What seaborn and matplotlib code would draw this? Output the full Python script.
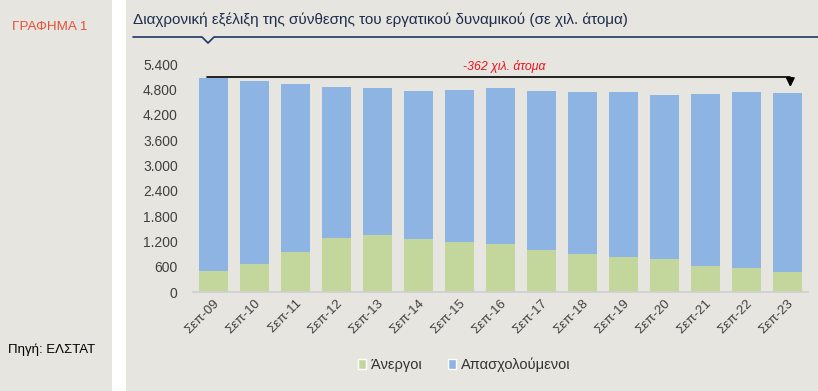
import numpy as np
import pandas as pd
import matplotlib.pyplot as plt
import seaborn as sns
from matplotlib.patches import Rectangle, Patch
from matplotlib.lines import Line2D
from matplotlib.ticker import FuncFormatter

periods = ["Σεπ-09", "Σεπ-10", "Σεπ-11", "Σεπ-12", "Σεπ-13", "Σεπ-14", "Σεπ-15",
           "Σεπ-16", "Σεπ-17", "Σεπ-18", "Σεπ-19", "Σεπ-20", "Σεπ-21", "Σεπ-22", "Σεπ-23"]
unemployed = [511, 677, 953, 1284, 1363, 1253, 1190, 1135, 1000, 906, 828, 795, 622, 575, 480]
employed = [4552, 4321, 3974, 3565, 3469, 3508, 3602, 3690, 3754, 3824, 3902, 3879, 4068, 4155, 4226]
yticks = [0, 600, 1200, 1800, 2400, 3000, 3600, 4200, 4800, 5400]

bg = "#e6e5e0"
green = "#c3d69b"
blue = "#8db4e2"

sns.set_theme(style="white")
plt.rcParams['font.family'] = ['Liberation Sans', 'DejaVu Sans']

df = pd.DataFrame({"period": periods, "unemployed": unemployed, "employed": employed})
df["total"] = df["unemployed"] + df["employed"]

fig = plt.figure(figsize=(8.18, 3.91), dpi=100)
fig.patch.set_facecolor(bg)
# white separator band between the side panel and the chart panel
fig.patches.append(Rectangle((112 / 818, 0), 14 / 818, 1, transform=fig.transFigure,
                             facecolor="white", edgecolor="none", zorder=0))

ax = fig.add_axes([193 / 818, 1 - 292.3 / 391, 615 / 818, (292.3 - 64) / 391])
ax.set_facecolor(bg)

sns.barplot(data=df, x="period", y="total", color=blue, width=0.73, saturation=1,
            linewidth=0, ax=ax)
sns.barplot(data=df, x="period", y="unemployed", color=green, width=0.73, saturation=1,
            linewidth=0, ax=ax)

ax.set_xlim(-0.5, 14.5)
ax.set_ylim(0, 5400)
ax.set_yticks(yticks)
ax.yaxis.set_major_formatter(FuncFormatter(lambda v, p: f"{int(v):,}".replace(",", ".")))
ax.set_xlabel("")
ax.set_ylabel("")
for s in ["top", "right", "left"]:
    ax.spines[s].set_visible(False)
ax.spines["bottom"].set_color("#d0d0d0")
ax.tick_params(axis="both", length=0, colors="#404040", labelsize=10)
ax.tick_params(axis="y", pad=11)
plt.setp(ax.get_xticklabels(), rotation=45, ha="right", rotation_mode="anchor", fontsize=9.5)

# change annotation
ax.plot([-0.16, 14.07], [5085, 5085], color="black", lw=1.2, clip_on=False)
ax.annotate("", xy=(14.07, 4790), xytext=(14.07, 5085),
            arrowprops=dict(arrowstyle="-|>", color="black", lw=1.2, mutation_scale=13),
            annotation_clip=False)
ax.text(7.1, 5330, "-362 χιλ. άτομα", color="#e8141c", style="italic", fontsize=8.8,
        ha="center", va="center")

# header texts
fig.text(12 / 818, 1 - 27 / 391, "ΓΡΑΦΗΜΑ 1", color="#e8503a", fontsize=9.7, va="center")
fig.text(133 / 818, 1 - 20 / 391,
         "Διαχρονική εξέλιξη της σύνθεσης του εργατικού δυναμικού (σε χιλ. άτομα)",
         color="#1f2d4d", fontsize=11, va="center")
fig.text(8 / 818, 1 - 350 / 391, "Πηγή: ΕΛΣΤΑΤ", color="black", fontsize=9.5, va="center")

# underline with notch
line_y = 1 - 37 / 391
nx = 208 / 818
fig.add_artist(Line2D([133 / 818, nx - 6 / 818, nx, nx + 6 / 818, 1],
                      [line_y, line_y, line_y - 6 / 391, line_y, line_y],
                      transform=fig.transFigure, color="#1f3864", lw=1.2))

handles = [Patch(facecolor=green, label="Άνεργοι"), Patch(facecolor=blue, label="Απασχολούμενοι")]
fig.legend(handles=handles, loc="center", bbox_to_anchor=(464 / 818, 1 - 365 / 391), ncol=2,
           frameon=False, fontsize=10.5, handlelength=0.6, handleheight=0.6,
           handletextpad=0.3, columnspacing=1.8, labelcolor="#333333")

fig.savefig("out.png", dpi=100, facecolor=bg)
